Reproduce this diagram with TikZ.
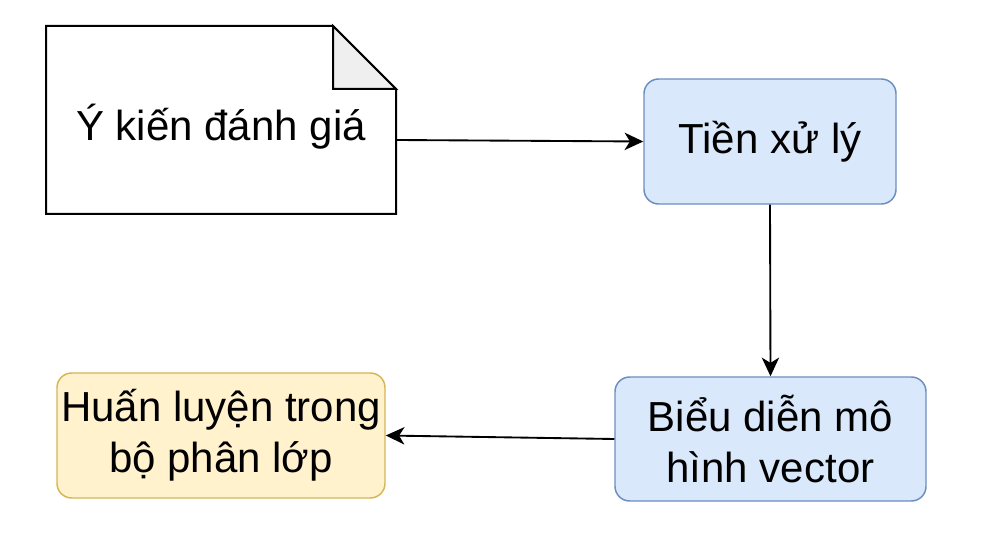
\documentclass[tikz,border=0pt]{standalone}
\usepackage{fontspec}
\setmainfont{Liberation Sans}
\usetikzlibrary{arrows.meta}
\definecolor{blueFill}{HTML}{DAE8FC}
\definecolor{blueLine}{HTML}{6C8EBF}
\definecolor{yellowFill}{HTML}{FFF2CC}
\definecolor{yellowLine}{HTML}{D6B656}
\definecolor{foldGray}{HTML}{EFEFEF}

\tikzset{every picture/.style={line width=0.75pt}}

\begin{document}
\begin{tikzpicture}[x=0.75pt,y=0.75pt,yscale=-1,xscale=1,
  txt/.style={font=\fontsize{31.5}{38}\selectfont, align=center, inner sep=0.75pt},
  stepbox/.style={txt, draw=blueLine, fill=blueFill, rounded corners=11pt, line width=1.1pt},
  trainbox/.style={txt, draw=yellowLine, fill=yellowFill, rounded corners=11pt, line width=1.1pt},
  flow/.style={line width=1.4pt, -{Stealth[length=14pt,width=13pt,inset=4pt]}}]
\useasboundingbox (0,0) rectangle (985,559);

%Shape: Note
\draw [line width=1.5pt, fill=white] (46,26) -- (333,26) -- (396,89) -- (396,214) -- (46,214) -- cycle ;
\draw [line width=1.5pt, fill=foldGray] (333,26) -- (333,89) -- (396,89) -- cycle ;
\coordinate (noteout) at (396,140) ;

% Text Node
\node (note) [txt] at (221,127) {Ý kiến đánh giá};

%Shape: Rounded Rect
\node (tien) [stepbox, minimum width=189pt, minimum height=93.75pt] at (770,141.5) {Tiền xử lý};
%Shape: Rounded Rect
\node (bieu) [stepbox, minimum width=233.25pt, minimum height=93pt] at (770.5,439) {Biểu diễn mô\\hình vector};
%Shape: Rounded Rect
\node (huan) [trainbox, minimum width=246pt, minimum height=93.75pt] at (221,435.5) {Huấn luyện trong\\bộ phân lớp};

%Straight Lines
\draw [flow] (noteout) -- (tien.west) ;
\draw [flow] (tien.south) -- (bieu.north) ;
\draw [flow] (bieu.west) -- (huan.east) ;

\end{tikzpicture}
\end{document}
